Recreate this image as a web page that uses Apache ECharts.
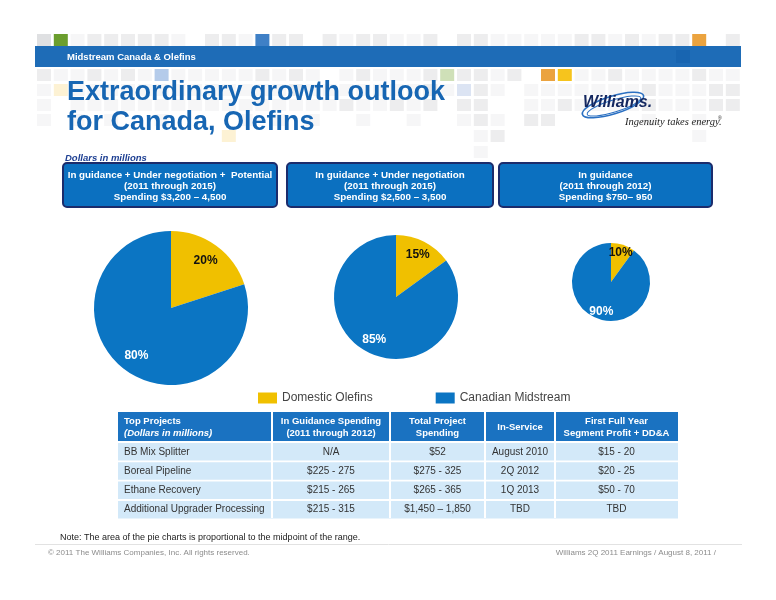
<!DOCTYPE html>
<html>
<head>
<meta charset="utf-8">
<script src="https://cdn.jsdelivr.net/npm/echarts@6/dist/echarts.min.js"></script>
<style>
  html, body { margin: 0; padding: 0; background: #fff; }
  #chart { width: 776px; height: 600px; }
</style>
</head>
<body>
<div id="chart"></div>
<script>
// pie shares, % of each spending range
const segmentNames = ["Domestic Olefins", "Canadian Midstream"];
const olefinsPct = [20, 15, 10];
const midstreamPct = [80, 85, 90];

// boxes above the pies
const boxTitles = ["In guidance + Under negotiation +  Potential", "In guidance + Under negotiation", "In guidance"];
const boxPeriods = ["(2011 through 2015)", "(2011 through 2015)", "(2011 through 2012)"];
const boxSpending = ["Spending $3,200 \u2013 4,500", "Spending $2,500 \u2013 3,500", "Spending $750\u2013 950"];

// project table
const headerLine1 = ["Top Projects", "In Guidance Spending", "Total Project", "In-Service", "First Full Year"];
const headerLine2 = ["(Dollars in millions)", "(2011 through 2012)", "Spending", "", "Segment Profit + DD&A"];
const projectNames = ["BB Mix Splitter", "Boreal Pipeline", "Ethane Recovery", "Additional Upgrader Processing"];
const guidanceSpending = ["N/A", "$225 - 275", "$215 - 265", "$215 - 315"];
const totalSpending = ["$52", "$275 - 325", "$265 - 365", "$1,450 \u2013 1,850"];
const inService = ["August 2010", "2Q 2012", "1Q 2013", "TBD"];
const firstYearProfit = ["$15 - 20", "$20 - 25", "$50 - 70", "TBD"];

const FONT = '"Liberation Sans", Arial, sans-serif';
const OLEFIN_COLOR = "#f0c000";
const MIDSTREAM_COLOR = "#0b75c3";

// decorative mosaic behind the title, one string per row
const mosaicRows = [
  [34, "3g1222221." + "221b22.212" + "2112.22111" + "112212122o.2"],
  [69, "2112121B11" + "1112121.12" + "1112G2212." + "oy1121111211"],
  [84, "1Y11111111" + "1111121111" + "11121L21.1" + "111111211122"],
  [99, "1.11111111" + "1111111121" + "1212.22..1" + "121111211122"],
  [114, "1.1.1..1.." + "..1.1.1..1" + "..1..121.2" + "2.....1..1.."],
  [130, ".........." + ".Y........" + "......12.." + ".........1.."],
  [146, ".........." + ".........." + "......1..." + "............"]
];
const mosaicColors = {
  "1": "#f6f6f7", "2": "#ededee", "3": "#dfe0e2",
  g: "#6b9e2e", b: "#3f80c6", o: "#eba33f", y: "#f6c41d",
  G: "#cfe0b8", B: "#b4cbea", Y: "#fdf2d4", L: "#dce4f3"
};

function txt(x, y, text, font, fill, align, z) {
  return {
    type: "text", x: x, y: y, z: z || 20, silent: true,
    style: {
      text: text, font: font, fill: fill || "#333",
      textAlign: align || "left", textVerticalAlign: "middle",
      align: align || "left", verticalAlign: "middle"
    }
  };
}

let graphics = [];

mosaicRows.forEach(([y, pattern]) => {
  pattern.split("").forEach((c, k) => {
    if (!mosaicColors[c]) return;
    graphics.push({
      type: "rect", z: 1, silent: true,
      shape: { x: 37 + k * 16.8, y: y, width: 14, height: 12 },
      style: { fill: mosaicColors[c] }
    });
  });
});

// header bar
graphics.push({ type: "rect", z: 5, silent: true, shape: { x: 35, y: 46, width: 706, height: 21 }, style: { fill: "#1e6cb7" } });
graphics.push({ type: "rect", z: 6, silent: true, shape: { x: 676, y: 50, width: 14, height: 13 }, style: { fill: "#1865b1" } });
graphics.push(txt(67, 57, "Midstream Canada & Olefins", "bold 9.5px " + FONT, "#fff"));

// title
graphics.push(txt(67, 93, "Extraordinary growth outlook", "bold 27px " + FONT, "#1766b3"));
graphics.push(txt(67, 123, "for Canada, Olefins", "bold 27px " + FONT, "#1766b3"));

// logo
graphics.push({ type: "ellipse", z: 15, silent: true, x: 613, y: 105, rotation: 0.3,
  shape: { cx: 0, cy: 0, rx: 32, ry: 9 }, style: { fill: "none", stroke: "#2b70c2", lineWidth: 1.6 } });
graphics.push({ type: "ellipse", z: 15, silent: true, x: 614, y: 106, rotation: 0.3,
  shape: { cx: 0, cy: 0, rx: 28, ry: 6 }, style: { fill: "none", stroke: "#2b70c2", lineWidth: 1 } });
graphics.push(txt(583, 103, "Williams.", "italic bold 16px " + FONT, "#14275f"));
graphics.push(txt(625, 122, "Ingenuity takes energy.", "italic 10.5px \"Liberation Serif\", serif", "#222"));
graphics.push(txt(718, 119, "\u00ae", "5px " + FONT, "#222"));

graphics.push(txt(65, 158, "Dollars in millions", "italic bold 9.5px " + FONT, "#1c3e92"));

// spending boxes
const boxX = [63, 287, 499];
const boxW = [214, 206, 213];
boxTitles.forEach((t, i) => {
  graphics.push({ type: "rect", z: 10, silent: true,
    shape: { x: boxX[i], y: 163, width: boxW[i], height: 44, r: 4 },
    style: { fill: "#0b70c0", stroke: "#1c2c6c", lineWidth: 2 } });
  const cx = boxX[i] + boxW[i] / 2;
  graphics.push(txt(cx, 175, t, "bold 9.8px " + FONT, "#fff", "center"));
  graphics.push(txt(cx, 186, boxPeriods[i], "bold 9.8px " + FONT, "#fff", "center"));
  graphics.push(txt(cx, 197, boxSpending[i], "bold 9.8px " + FONT, "#fff", "center"));
});

// table
const colEdges = [118, 272, 390, 485, 555, 678];
graphics.push({ type: "rect", z: 10, silent: true, shape: { x: 118, y: 412, width: 560, height: 29 }, style: { fill: "#1a72c1" } });
const rowTop = projectNames.map((_, i) => 443 + i * 19.3);
rowTop.forEach(y => {
  graphics.push({ type: "rect", z: 10, silent: true, shape: { x: 118, y: y, width: 560, height: 17.5 }, style: { fill: "#d3e9f9" } });
});
colEdges.slice(1, 5).forEach(x => {
  graphics.push({ type: "rect", z: 11, silent: true, shape: { x: x - 1, y: 412, width: 2, height: 106 }, style: { fill: "#fff" } });
});
headerLine1.forEach((h, j) => {
  const left = j === 0;
  const x = left ? 124 : (colEdges[j] + colEdges[j + 1]) / 2;
  const align = left ? "left" : "center";
  if (!headerLine2[j]) {
    graphics.push(txt(x, 427, h, "bold 9.5px " + FONT, "#fff", align));
    return;
  }
  graphics.push(txt(x, 421, h, "bold 9.5px " + FONT, "#fff", align));
  graphics.push(txt(x, 433, headerLine2[j], (left ? "italic " : "") + "bold 9.5px " + FONT, "#fff", align));
});
const tableCols = [projectNames, guidanceSpending, totalSpending, inService, firstYearProfit];
tableCols.forEach((col, j) => {
  col.forEach((v, i) => {
    const y = rowTop[i] + 8.8;
    if (j === 0) graphics.push(txt(124, y, v, "10px " + FONT, "#333"));
    else graphics.push(txt((colEdges[j] + colEdges[j + 1]) / 2, y, v, "10px " + FONT, "#333", "center"));
  });
});

// note + footer
graphics.push(txt(60, 538, "Note: The area of the pie charts is proportional to the midpoint of the range.", "9px " + FONT, "#222"));
graphics.push({ type: "line", z: 5, silent: true, shape: { x1: 35, y1: 544.5, x2: 742, y2: 544.5 }, style: { stroke: "#e2e2e2", lineWidth: 1 } });
graphics.push(txt(48, 553, "\u00a9 2011 The Williams Companies, Inc. All rights reserved.", "8px " + FONT, "#8c8c8c"));
graphics.push(txt(716, 553, "Williams 2Q 2011 Earnings / August 8, 2011 /", "8px " + FONT, "#8c8c8c", "right"));

// pies: area follows the midpoint of each spending range
const pieLayout = [
  { center: [171, 308], r: 77 },
  { center: [396, 297], r: 62 },
  { center: [611, 282], r: 39 }
];
let series = [];
pieLayout.forEach((p, i) => {
  const values = [olefinsPct[i], midstreamPct[i]];
  series.push({
    type: "pie",
    center: p.center,
    radius: p.r,
    startAngle: 90,
    clockwise: true,
    label: { show: false },
    labelLine: { show: false },
    itemStyle: { borderWidth: 0 },
    emphasis: { disabled: true },
    data: segmentNames.map((n, k) => ({ name: n, value: values[k] }))
  });
  // transparent ring carrying the labels further out than the default
  series.push({
    type: "pie",
    silent: true,
    center: p.center,
    radius: [p.r * 0.45, p.r],
    startAngle: 90,
    clockwise: true,
    itemStyle: { color: "transparent", borderWidth: 0 },
    labelLine: { show: false },
    emphasis: { disabled: true },
    label: {
      show: true, position: "inside", formatter: "{c}%",
      fontSize: 12, fontWeight: "bold", fontFamily: FONT
    },
    data: segmentNames.map((n, k) => ({
      name: n, value: values[k],
      label: { color: k === 0 ? "#111" : "#fff" }
    }))
  });
});

const chart = echarts.init(document.getElementById("chart"));
chart.setOption({
  animation: false,
  color: [OLEFIN_COLOR, MIDSTREAM_COLOR],
  legend: {
    data: segmentNames,
    left: 253,
    top: 387,
    icon: "rect",
    itemWidth: 19,
    itemHeight: 11,
    itemGap: 63,
    selectedMode: false,
    textStyle: { fontSize: 12, color: "#444", fontFamily: FONT }
  },
  graphic: graphics,
  series: series
});
</script>
</body>
</html>
